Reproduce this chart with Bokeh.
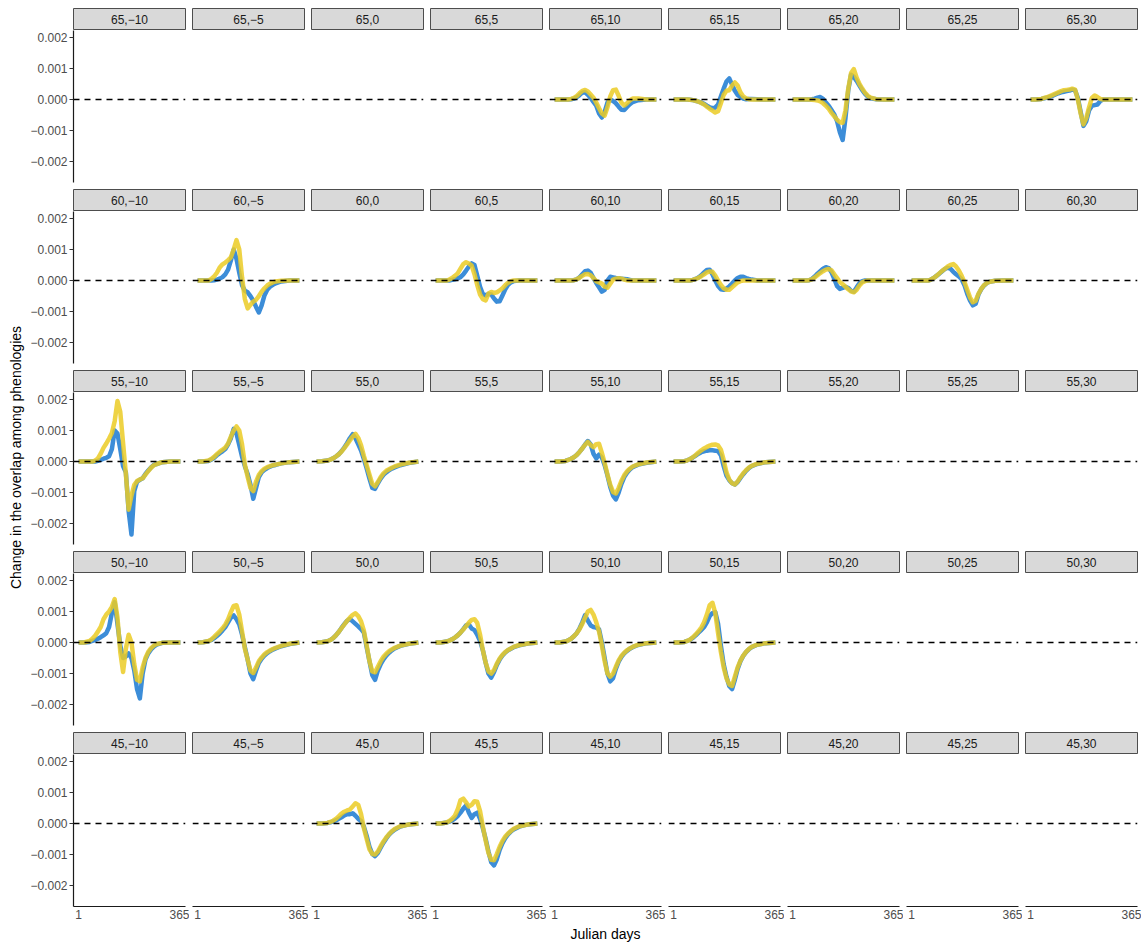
import math
from bokeh.plotting import figure
from bokeh.layouts import gridplot, row
from bokeh.models import Range1d, Span, FixedTicker, CustomJSTickFormatter
from bokeh.core.properties import value
from bokeh.embed import file_html
from bokeh.resources import INLINE

# ---------------- data ----------------
# facet labels
lat_rows = [65, 60, 55, 50, 45]
shift_cols = [-10, -5, 0, 5, 10, 15, 20, 25, 30]
x_tick_vals = [1, 365]
y_tick_vals = [-0.002, -0.001, 0.0, 0.001, 0.002]

# Julian days at which the curves were read
days = [1, 20, 40, 50, 60, 70, 80, 90, 100, 110, 120, 130, 140, 150, 160,
        170, 180, 190, 200, 210, 220, 230, 240, 250, 260, 270, 280, 300, 330, 365]

# curve values, in units of 1e-4 (blue series "b", yellow series "y")
UNIT = 1e-4

b65_10 = [0, 0, 0, 0, 0.1, 0.3, 0.7, 1.4, 2.2, 2.4, 1.5, 0.5, -0.8, -2, -4.5, -5.8, -4, -1, 0, -0.5, -1.2, -2.3, -3.3, -3.4, -2.4, -1.5, -0.8, -0.2, 0, 0]
y65_10 = [0, 0, 0, 0, 0.2, 0.5, 1.1, 2, 2.8, 3.1, 2.6, 1.6, 0.6, -1, -2.8, -4.5, -5.2, -2.5, 1, 3, 3.2, 1.2, -1, -1.9, -1.2, -0.3, 0.3, 0.3, 0, 0]
b65_15 = [0, 0, 0, 0, -0.1, -0.2, -0.4, -0.7, -1, -1.4, -2, -2.5, -2.8, -2.6, -1.6, 1, 3.5, 5.8, 6.8, 4.8, 2.8, 1.5, 0.8, 0.3, 0.1, 0.2, 0.2, 0.1, 0, 0]
y65_15 = [0, 0, 0, 0, -0.1, -0.2, -0.4, -0.7, -1.1, -1.6, -2.3, -3, -3.6, -4.2, -3.8, -1.2, 1.5, 2.8, 3, 4.5, 5.5, 4.5, 2.3, 1, 0.4, 0.1, 0, 0, 0, 0]
b65_20 = [0, 0, 0, 0, 0, 0.1, 0.3, 0.6, 0.8, 0.2, -1, -2, -3.4, -4.8, -7, -10.5, -13, -6, 3, 8, 7.3, 6, 4.5, 3, 1.8, 0.9, 0.4, 0.1, 0, 0]
y65_20 = [0, 0, 0, 0, 0, -0.1, -0.2, -0.3, -0.6, -1.2, -2, -3, -4.3, -5.4, -6.5, -7.3, -7.5, -3.5, 3.5, 8.5, 9.8, 7, 5, 3.5, 2.2, 1.2, 0.6, 0.1, 0, 0]
b65_30 = [0, 0, 0.2, 0.4, 0.6, 0.9, 1.2, 1.6, 2, 2.3, 2.5, 2.7, 2.9, 3.2, 3, 0.5, -4, -8.5, -7, -3.5, -2, -1.8, -1.6, -0.5, 0, 0, 0, 0, 0, 0]
y65_30 = [0, 0, 0.2, 0.5, 0.8, 1.1, 1.5, 1.9, 2.3, 2.7, 3, 3.1, 3.2, 3.5, 3.2, 0, -4.5, -8, -6, -2.5, 0.5, 1.3, 0.8, 0.2, 0, 0, 0, 0, 0, 0]

b60_m5 = [0, 0, 0, 0, 0.1, 0.3, 0.6, 1.1, 2, 3.5, 6.5, 10, 7, 2.5, -1.5, -3.3, -3.8, -5, -6.5, -8.5, -10.3, -8, -4.8, -3, -2, -1.4, -0.9, -0.3, 0, 0]
y60_m5 = [0, 0, 0, 0.5, 1.3, 2.5, 4.2, 5.2, 5.8, 6.5, 7.5, 10, 13, 10, 1, -6, -9, -7.8, -6.8, -6.2, -5, -3.6, -2.5, -1.6, -1, -0.6, -0.3, -0.1, 0, 0]
b60_5 = [0, 0, 0, 0, 0.2, 0.4, 0.7, 1.1, 2, 3.2, 4.5, 5.5, 5, 1.5, -2, -4.4, -4.8, -4.3, -4.5, -5.8, -6.8, -6.7, -4.8, -2.8, -1.4, -0.6, -0.2, 0, 0, 0]
y60_5 = [0, 0, 0, 0.3, 0.8, 1.5, 2.3, 3.8, 5.3, 5.9, 5.5, 4.8, 2, -1.5, -4.5, -6, -6.4, -4.2, -3.7, -4, -3.8, -3.2, -2.5, -1.5, -0.7, -0.2, 0, 0, 0, 0]
b60_10 = [0, 0, 0, 0, 0, 0.1, 0.4, 1, 2, 3, 3.2, 2.5, 0.8, -0.8, -2.2, -3.6, -3, 0, 1.2, 1, 0.8, 0.7, 0.6, 0.5, 0.4, 0.2, 0, 0, 0, 0]
y60_10 = [0, 0, 0, 0, 0, 0.1, 0.4, 0.9, 1.5, 2, 2.1, 1.7, 0.8, -0.2, -0.6, -1, -2, -2.3, -1, 0.3, 0.6, 0.7, 0.6, 0.3, 0.1, 0, 0, 0, 0, 0]
b60_15 = [0, 0, 0, 0, 0, 0.2, 0.5, 1, 1.7, 2.6, 3.4, 3.5, 2, 0, -1.8, -2.8, -3, -2.6, -1.9, -1, 0, 0.8, 1.2, 1.2, 0.8, 0.5, 0.3, 0, 0, 0]
y60_15 = [0, 0, 0, 0, 0, 0.2, 0.5, 0.9, 1.4, 2, 2.6, 2.9, 2.8, 1.6, 0, -1.4, -2.5, -3, -3, -2.2, -1.4, -0.6, -0.2, 0, 0, 0, 0, 0, 0, 0]
b60_20 = [0, 0, 0, 0, 0.1, 0.5, 1.3, 2.2, 3, 3.8, 4.3, 4, 2.7, 0.5, -1.8, -2.7, -2.4, -2, -2.4, -3.3, -3.6, -2.2, -0.9, -0.2, 0, 0, 0, 0, 0, 0]
y60_20 = [0, 0, 0, 0, 0.1, 0.4, 1, 1.7, 2.4, 3, 3.5, 3.7, 3.3, 2, 0.8, -0.5, -1.2, -2, -2.8, -3.5, -3.8, -3, -1.6, -0.6, -0.2, 0, 0, 0, 0, 0]
b60_25 = [0, 0, 0, 0, 0, 0.3, 0.8, 1.5, 2.2, 3, 3.7, 4.1, 3.8, 2.8, 2, 1.3, 0.4, -1.5, -4.3, -6.5, -8, -7.5, -4.5, -2.8, -1.6, -0.8, -0.4, -0.1, 0, 0]
y60_25 = [0, 0, 0, 0, 0, 0.3, 0.8, 1.5, 2.3, 3.1, 3.8, 4.5, 5, 5.3, 4.5, 3.2, 1.5, -0.5, -3, -5.5, -7, -6.5, -4.3, -2.7, -1.5, -0.8, -0.4, -0.1, 0, 0]

b55_m10 = [0, 0, 0, 0, 0, 0.2, 0.5, 0.9, 1.2, 1.7, 4, 10, 9, 4, -1.5, -3.5, -16, -23.5, -9.5, -6.5, -5.9, -5.4, -4, -2.9, -1.9, -1.1, -0.8, -0.2, 0, 0]
y55_m10 = [0, 0, 0, 0, 0.3, 1, 2.5, 4.4, 5.8, 7.4, 9.2, 13, 19.5, 16, 6, -4, -15.5, -11, -7.5, -6.3, -5.8, -5.4, -4.2, -3.1, -2, -1.2, -0.8, -0.2, 0, 0]
b55_m5 = [0, 0, 0.2, 0.6, 1.2, 2, 2.7, 3.3, 4, 5.5, 7.5, 10.5, 9, 5.3, 1.5, -1.5, -4, -7.5, -12, -8.5, -5, -3.5, -2.7, -2.1, -1.7, -1.3, -1.1, -0.6, -0.2, 0]
y55_m5 = [0, 0, 0.3, 0.8, 1.5, 2.4, 3.2, 3.8, 4.5, 5.8, 8, 10, 11.3, 10, 5.5, -1, -5, -8.5, -9.5, -6.5, -4.3, -3.1, -2.3, -1.8, -1.5, -1.2, -1, -0.6, -0.2, 0]
b55_0 = [0, 0.1, 0.3, 0.6, 1, 1.6, 2.3, 3.3, 4.5, 5.9, 7.5, 8.8, 7.5, 5.5, 3.5, 0.8, -2.2, -5.5, -8.5, -8.8, -7, -5.5, -4.3, -3.5, -2.8, -2.3, -1.9, -1.2, -0.5, 0]
y55_0 = [0, 0.1, 0.3, 0.6, 1, 1.6, 2.3, 3.2, 4.3, 5.5, 6.8, 8, 8.9, 7.6, 5.2, 1.8, -1.2, -4.2, -7.2, -8, -6.6, -5, -3.8, -3, -2.5, -2, -1.6, -1, -0.4, 0]
b55_10 = [0, 0, 0.2, 0.5, 0.9, 1.4, 2.1, 3.1, 4.2, 5.5, 6.6, 5.5, 2.5, 1, 2.2, 1.3, -1.2, -4.5, -8.2, -11, -12.2, -10, -7.2, -5, -3.6, -2.6, -1.8, -1, -0.4, 0]
y55_10 = [0, 0, 0.2, 0.5, 0.9, 1.4, 2.1, 3.1, 4.2, 5.4, 6.3, 5.3, 4.6, 5.6, 5.7, 2.8, -0.5, -4.2, -7.5, -9.8, -10.3, -8.5, -6.2, -4.4, -3.2, -2.3, -1.6, -0.9, -0.3, 0]
b55_15 = [0, 0, 0.1, 0.4, 0.8, 1.3, 1.9, 2.5, 3, 3.3, 3.5, 3.6, 3.6, 3.5, 3.3, 2, -1.5, -4.5, -6, -7, -7.4, -6.6, -5.3, -4.1, -3, -2.1, -1.5, -0.8, -0.2, 0]
y55_15 = [0, 0, 0.1, 0.4, 0.8, 1.4, 2.1, 2.9, 3.6, 4.2, 4.7, 5.1, 5.4, 5.5, 5.2, 3.8, 0.5, -3.5, -5.8, -7, -7.4, -6.4, -5, -3.8, -2.8, -2, -1.4, -0.7, -0.2, 0]

b50_m10 = [0, 0, 0.2, 0.5, 0.8, 1.2, 1.7, 2.3, 3, 5, 9.5, 13, 6, -1, -5, -4.5, -3.5, -5, -9, -15, -18, -10, -5.5, -3.5, -2.2, -1.3, -0.7, -0.1, 0, 0]
y50_m10 = [0, 0, 0.5, 1.2, 2.2, 3.5, 5, 7.5, 9, 10, 11.5, 14, 8, -3, -9.5, -2, 2.5, 0, -7, -12, -12.5, -8, -5, -3, -1.8, -1, -0.5, -0.1, 0, 0]
b50_m5 = [0, 0.1, 0.4, 0.8, 1.4, 2.1, 2.9, 3.9, 5, 6.5, 8, 8.7, 7.5, 5.8, 2.5, -1.5, -5.5, -10, -11.8, -9, -6.6, -5.2, -4.2, -3.4, -2.8, -2.3, -1.9, -1.2, -0.5, 0]
y50_m5 = [0, 0.1, 0.5, 1, 1.8, 2.7, 3.6, 4.6, 5.8, 7.5, 9.8, 11.8, 12, 9, 3.5, -2, -5.5, -9, -9.8, -8, -6, -4.8, -3.8, -3.1, -2.6, -2.1, -1.7, -1.1, -0.4, 0]
b50_0 = [0, 0.1, 0.4, 0.8, 1.4, 2.3, 3.4, 4.7, 5.9, 7, 7.6, 6.8, 6, 5.2, 4.3, 3.2, -1.5, -6, -10.5, -12, -9, -7, -5.4, -4.2, -3.3, -2.5, -1.9, -1.1, -0.4, 0]
y50_0 = [0, 0.1, 0.4, 0.8, 1.4, 2.3, 3.4, 4.6, 5.8, 7, 8, 8.9, 9.4, 8.5, 6.8, 3.8, -1, -6, -9.3, -9.6, -7.8, -6, -4.6, -3.6, -2.8, -2.2, -1.7, -1, -0.4, 0]
b50_5 = [0, 0, 0.3, 0.6, 1, 1.6, 2.3, 3.2, 4.3, 5.5, 5.8, 4.5, 4, 2.5, 0.5, -2.5, -6.5, -10, -11.3, -9.5, -7.2, -5.5, -4.2, -3.2, -2.5, -2, -1.5, -0.9, -0.3, 0]
y50_5 = [0, 0, 0.3, 0.6, 1, 1.6, 2.3, 3.2, 4.2, 5.3, 6.4, 7.3, 7.5, 6.3, 2.5, -2.5, -6.5, -9.3, -10, -8.8, -6.8, -5.2, -4, -3.1, -2.4, -1.9, -1.4, -0.8, -0.3, 0]
b50_10 = [0, 0, 0.3, 0.7, 1.2, 2, 3, 4.5, 6.5, 8.8, 7, 5.5, 5, 4.8, 4.2, 0, -5, -10, -12.5, -11.5, -8.5, -6.2, -4.6, -3.5, -2.7, -2, -1.5, -0.8, -0.2, 0]
y50_10 = [0, 0, 0.3, 0.7, 1.2, 2, 3, 4.3, 6, 8, 10, 10.5, 9, 6.5, 3.5, -1, -6, -10, -11, -10, -7.8, -5.8, -4.3, -3.3, -2.5, -1.9, -1.4, -0.7, -0.2, 0]
b50_15 = [0, 0, 0.2, 0.5, 0.9, 1.5, 2.3, 3.2, 4, 5, 6.5, 8.5, 9.5, 9.8, 6, -1, -7, -11, -14, -15, -12, -8.5, -6, -4.3, -3.1, -2.2, -1.5, -0.7, -0.2, 0]
y50_15 = [0, 0, 0.2, 0.5, 1, 1.7, 2.6, 3.6, 4.8, 6.5, 9, 12, 12.8, 9.5, 3, -3, -8, -11.5, -13.5, -14, -11, -8, -5.8, -4.2, -3, -2.1, -1.4, -0.7, -0.2, 0]

b45_0 = [0, 0, 0.2, 0.4, 0.7, 1, 1.5, 2, 2.6, 3, 3, 3.3, 2.5, 1.5, 0.8, -1, -4, -7.5, -9.8, -10.5, -9.5, -7.8, -6.2, -4.8, -3.6, -2.7, -2, -1, -0.3, 0]
y45_0 = [0, 0, 0.2, 0.5, 0.9, 1.5, 2.3, 3.2, 3.8, 4.2, 4.5, 5.5, 6.5, 6, 3, -1.5, -5, -8.3, -9.8, -10, -9, -7.3, -5.8, -4.5, -3.4, -2.5, -1.8, -0.9, -0.3, 0]
b45_5 = [0, 0, 0.3, 0.6, 1, 1.6, 2.4, 3.5, 4.8, 5.8, 3.5, 1.8, 3, 3.5, 1.5, -1.5, -5, -9, -12.5, -13.5, -11.5, -8.5, -6.3, -4.7, -3.5, -2.6, -1.9, -1, -0.3, 0]
y45_5 = [0, 0, 0.3, 0.8, 1.5, 2.5, 4.5, 7.5, 8, 6.8, 5.5, 6, 7.2, 7, 4, -1, -5.5, -9.5, -11.7, -11.8, -9.8, -7.5, -5.6, -4.2, -3.2, -2.4, -1.7, -0.9, -0.3, 0]

blue_series = {
    (65, 10): b65_10, (65, 15): b65_15, (65, 20): b65_20, (65, 30): b65_30,
    (60, -5): b60_m5, (60, 5): b60_5, (60, 10): b60_10, (60, 15): b60_15, (60, 20): b60_20, (60, 25): b60_25,
    (55, -10): b55_m10, (55, -5): b55_m5, (55, 0): b55_0, (55, 10): b55_10, (55, 15): b55_15,
    (50, -10): b50_m10, (50, -5): b50_m5, (50, 0): b50_0, (50, 5): b50_5, (50, 10): b50_10, (50, 15): b50_15,
    (45, 0): b45_0, (45, 5): b45_5,
}
yellow_series = {
    (65, 10): y65_10, (65, 15): y65_15, (65, 20): y65_20, (65, 30): y65_30,
    (60, -5): y60_m5, (60, 5): y60_5, (60, 10): y60_10, (60, 15): y60_15, (60, 20): y60_20, (60, 25): y60_25,
    (55, -10): y55_m10, (55, -5): y55_m5, (55, 0): y55_0, (55, 10): y55_10, (55, 15): y55_15,
    (50, -10): y50_m10, (50, -5): y50_m5, (50, 0): y50_0, (50, 5): y50_5, (50, 10): y50_10, (50, 15): y50_15,
    (45, 0): y45_0, (45, 5): y45_5,
}
for k in blue_series:
    assert len(blue_series[k]) == len(days), k
    assert len(yellow_series[k]) == len(days), k

# ---------------- style / layout ----------------
FONT = "Liberation Sans"
BLUE = "#3C8DD8"
YELLOW = "#EBCB25"
PAGE_PAD = 8
FRAME_W, FRAME_H, STRIP_H, GAP = 112, 152, 22, 7
LEFT_B, YLAB_W, BOTTOM_B = 48, 25, 38
X_RANGE = (-17.2, 383.2)
Y_RANGE = (-0.0026725, 0.0022225)

y_fmt = CustomJSTickFormatter(code="return (tick < 0 ? '\u2212' : '') + Math.abs(tick).toFixed(3);")


def side_borders(ci):
    if ci == 0:
        return dict(min_border_left=LEFT_B, min_border_right=4), LEFT_B + FRAME_W + 4
    return dict(min_border_left=3, min_border_right=4), 3 + FRAME_W + 4


def strip_fig(label, ri, ci):
    b, w = side_borders(ci)
    top = PAGE_PAD if ri == 0 else 0
    s = figure(width=w, height=STRIP_H + top, x_range=Range1d(0, 1), y_range=Range1d(0, 1),
               toolbar_location=None, output_backend="svg",
               x_axis_location=None, y_axis_location=None,
               min_border_top=top, min_border_bottom=0, **b)
    s.grid.visible = False
    s.background_fill_color = "#D9D9D9"
    s.border_fill_color = "white"
    s.outline_line_color = "#4D4D4D"
    s.outline_line_width = 1
    s.text(x=[0.5], y=[0.5], text=[label], text_align="center", text_baseline="middle",
           text_font=value(FONT), text_font_size="12px", text_color="#1A1A1A")
    return s


def panel_fig(lat, sh, ri, ci):
    last = ri == len(lat_rows) - 1
    b, w = side_borders(ci)
    h = FRAME_H + (BOTTOM_B if last else GAP)
    p = figure(width=w, height=h, x_range=Range1d(*X_RANGE), y_range=Range1d(*Y_RANGE),
               toolbar_location=None, output_backend="svg",
               x_axis_location="below" if last else None,
               y_axis_location="left" if ci == 0 else None,
               min_border_top=0, min_border_bottom=(BOTTOM_B if last else GAP), **b)
    p.grid.visible = False
    p.outline_line_color = None
    p.background_fill_color = "white"
    p.border_fill_color = "white"

    if ci == 0:
        ax = p.yaxis[0]
        ax.ticker = FixedTicker(ticks=y_tick_vals)
        ax.formatter = y_fmt
        ax.minor_tick_line_color = None
        ax.major_tick_in = 0
        ax.major_tick_out = 4
        ax.major_tick_line_color = "#333333"
        ax.axis_line_color = "#1A1A1A"
        ax.axis_line_width = 1.2
        ax.major_label_standoff = 2
        ax.major_label_text_font = FONT
        ax.major_label_text_font_size = "12px"
        ax.major_label_text_color = "#4D4D4D"
    if last:
        ax = p.xaxis[0]
        ax.ticker = FixedTicker(ticks=x_tick_vals)
        ax.minor_tick_line_color = None
        ax.major_tick_in = 0
        ax.major_tick_out = 0
        ax.axis_line_color = "#1A1A1A"
        ax.axis_line_width = 1.2
        ax.major_label_standoff = 3
        ax.major_label_text_font = FONT
        ax.major_label_text_font_size = "12px"
        ax.major_label_text_color = "#4D4D4D"
        ax.axis_label = "Julian days" if ci == 4 else " "
        ax.axis_label_standoff = 4
        ax.axis_label_text_font = FONT
        ax.axis_label_text_font_size = "14px"
        ax.axis_label_text_font_style = "normal"
        ax.axis_label_text_color = "#000000"

    key = (lat, sh)
    if key in blue_series:
        p.line(days, [v * UNIT for v in blue_series[key]], line_color=BLUE, line_width=4.5,
               line_join="round")
        p.line(days, [v * UNIT for v in yellow_series[key]], line_color=YELLOW, line_width=4.5,
               line_alpha=0.85, line_join="round")
    p.add_layout(Span(location=0, dimension="width", line_color="black", line_width=1.4,
                      line_dash="6 5"))
    return p


grid_rows = []
for ri, lat in enumerate(lat_rows):
    strips = []
    panels = []
    for ci, sh in enumerate(shift_cols):
        lab = f"{lat},{sh}".replace("-", "\u2212")
        strips.append(strip_fig(lab, ri, ci))
        panels.append(panel_fig(lat, sh, ri, ci))
    grid_rows.append(strips)
    grid_rows.append(panels)

grid = gridplot(grid_rows, toolbar_location=None)

TOTAL_H = PAGE_PAD + 5 * STRIP_H + 4 * (FRAME_H + GAP) + FRAME_H + BOTTOM_B
PANEL_TOP = PAGE_PAD
PANEL_BOTTOM = TOTAL_H - BOTTOM_B
ylab = figure(width=YLAB_W, height=TOTAL_H, x_range=Range1d(0, YLAB_W), y_range=Range1d(0, TOTAL_H),
              toolbar_location=None, output_backend="svg",
              x_axis_location=None, y_axis_location=None, min_border=0)
ylab.grid.visible = False
ylab.outline_line_color = None
ylab.text(x=[15], y=[TOTAL_H - (PANEL_TOP + PANEL_BOTTOM) / 2],
          text=["Change in the overlap among phenologies"], angle=math.pi / 2,
          text_align="center", text_baseline="middle", text_font=value(FONT),
          text_font_size="14px", text_color="#000000")

layout = row(ylab, grid)
open("out.html", "w").write(file_html(layout, INLINE))
